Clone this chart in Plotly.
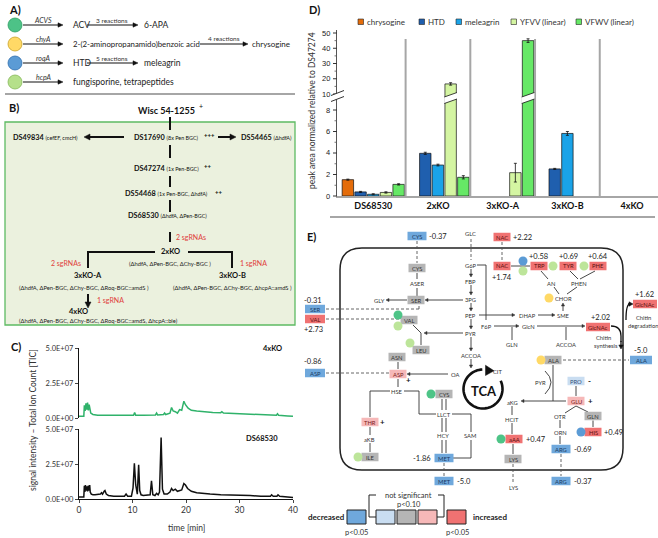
import plotly.graph_objects as go
import numpy as np

W, H = 658, 538
FONT = "Lato"

# ---------------- Panel D data ----------------
groups = ["DS68530", "2xKO", "3xKO-A", "3xKO-B", "4xKO"]
series_names = ["chrysogine", "HTD", "meleagrin", "YFVV (linear)", "VFWV (linear)"]
series_colors = ["#E46C0A", "#1F5FAE", "#1AA3E8", "#D4F5A2", "#66E866"]
chrysogine = [1.52, None, None, None, None]
htd = [0.38, 3.97, None, 2.52, None]
meleagrin = [0.16, 2.88, None, 5.82, None]
yfvv = [0.33, 16.6, 2.17, None, None]
vfwv = [1.08, 1.74, 45.0, None, None]
chrysogine_err = [0.05, 0, 0, 0, 0]
htd_err = [0.05, 0.1, 0, 0.05, 0]
meleagrin_err = [0.05, 0.08, 0, 0.18, 0]
yfvv_err = [0.06, 0.8, 0.87, 0, 0]
vfwv_err = [0.06, 0.15, 1.2, 0, 0]
lower_ticks = [0, 2, 4, 6, 8]
upper_ticks = [10, 20, 30, 40, 50]
lower_minor = [1, 3, 5, 7, 9]
upper_minor = [15, 25, 35, 45]

# ---------------- Panel C data (time [min], TIC in 1E+07) ----------------
tic_4xko = [(0, 0.12), (0.9, 0.12), (1.0, 0.9), (1.15, 0.5), (1.3, 1.05), (1.45, 0.6), (1.6, 1.1),
            (1.75, 0.55), (1.9, 0.95), (2.05, 0.5), (2.2, 0.35), (2.6, 0.25), (3.5, 0.2), (5, 0.2),
            (7, 0.2), (9, 0.2), (10.2, 0.2), (10.4, 0.4), (10.6, 0.2), (12, 0.2), (14.3, 0.22),
            (14.5, 0.35), (14.7, 0.22), (15.8, 0.25), (16.0, 0.35), (16.2, 0.25), (17.0, 0.35),
            (17.3, 0.75), (17.6, 0.5), (18.0, 0.45), (18.4, 0.35), (18.8, 0.6), (19.2, 0.55),
            (19.6, 1.2), (19.9, 0.95), (20.4, 0.7), (21.0, 0.55), (22, 0.5), (23, 0.45), (25, 0.4),
            (26.5, 0.38), (26.7, 0.45), (27, 0.35), (30, 0.3), (33, 0.25), (35, 0.2), (36.9, 0.2),
            (37.1, 0.3), (37.3, 0.2), (39, 0.15), (40, 0.12)]
tic_ds68530 = [(0, 0.15), (0.9, 0.15), (1.0, 0.95), (1.1, 0.5), (1.2, 1.0), (1.35, 0.6), (1.5, 0.9),
               (1.6, 0.55), (1.75, 0.95), (1.9, 0.6), (2.0, 1.0), (2.1, 0.5), (2.3, 0.35), (2.6, 0.3),
               (3.0, 0.3), (3.5, 0.3), (4.0, 0.35), (4.2, 0.45), (4.4, 0.35), (4.7, 0.55), (4.85, 0.6),
               (5.1, 0.35), (5.5, 0.25), (6.5, 0.2), (7.5, 0.2), (8.5, 0.2), (8.8, 0.35), (9.1, 0.2),
               (9.8, 0.2), (10.1, 0.8), (10.35, 2.55), (10.6, 1.0), (10.9, 0.35), (11.15, 2.45),
               (11.35, 0.6), (11.6, 0.3), (12.0, 0.25), (12.8, 0.25), (13.3, 0.3), (13.55, 1.3),
               (13.8, 0.3), (14.2, 0.25), (14.5, 0.4), (14.8, 0.3), (15.05, 0.5), (15.35, 4.4),
               (15.6, 0.7), (15.9, 0.35), (16.5, 0.35), (17.0, 0.5), (17.3, 0.75), (17.6, 0.6),
               (18.0, 0.7), (18.4, 0.55), (18.8, 0.6), (19.2, 0.65), (19.6, 1.1), (19.9, 1.0),
               (20.3, 0.75), (21.0, 0.55), (22.0, 0.45), (23.0, 0.4), (24.5, 0.35), (26.5, 0.3),
               (28.0, 0.3), (30.0, 0.25), (32.0, 0.25), (34.0, 0.2), (35.8, 0.2), (36.0, 0.3),
               (36.3, 0.2), (37.0, 0.2), (37.2, 0.3), (37.5, 0.2), (39.0, 0.15), (40.0, 0.1)]
c_yticks = [0, 2.5, 5]
c_yticktext = ["0.0E+00", "2.5E+07", "5.0E+07"]
c_xticks = [0, 10, 20, 30, 40]


def P(x):
    return x / W


def Q(y):
    return 1 - y / H


anns = []
shapes = []


def txt(x, y, s, size=7, color="#222", anchor="center", angle=0, family=FONT, style="normal"):
    anns.append(dict(x=P(x), y=Q(y), xref="paper", yref="paper", text=s, showarrow=False,
                     font=dict(size=size, color=color, family=family, style=style), xanchor=anchor,
                     yanchor="middle", textangle=angle, borderpad=0))


def line(x0, y0, x1, y1, color="#222", width=1.0, dash=None):
    d = dict(color=color, width=width)
    if dash:
        d["dash"] = dash
    shapes.append(dict(type="line", xref="paper", yref="paper", x0=P(x0), y0=Q(y0),
                       x1=P(x1), y1=Q(y1), line=d))


def path(cmds, color="#222", width=1.0, fill=None):
    s = ""
    for c in cmds:
        s += c[0]
        pts = c[1:]
        for i in range(0, len(pts), 2):
            s += " %.5f,%.5f " % (P(pts[i]), Q(pts[i + 1]))
    d = dict(type="path", xref="paper", yref="paper", path=s, line=dict(color=color, width=width))
    if fill:
        d["fillcolor"] = fill
    shapes.append(d)


def arrow(x0, y0, x1, y1, w=1.0, hl=3.5, hw=1.8, color="#222"):
    dx, dy = x1 - x0, y1 - y0
    n = (dx * dx + dy * dy) ** 0.5
    ux, uy = dx / n, dy / n
    bx, by = x1 - ux * hl, y1 - uy * hl
    line(x0, y0, bx + ux * 0.5, by + uy * 0.5, color, w)
    px, py = -uy, ux
    path([("M", x1, y1), ("L", bx + px * hw, by + py * hw), ("L", bx - px * hw, by - py * hw), ("Z",)],
         color=color, width=0.5, fill=color)


def rect(x0, y0, x1, y1, fill, lc=None, lw=1.0):
    shapes.append(dict(type="rect", xref="paper", yref="paper", x0=P(x0), y0=Q(y1), x1=P(x1),
                       y1=Q(y0), fillcolor=fill,
                       line=dict(color=lc if lc else fill, width=lw if lc else 0)))


def circle(cx, cy, r, fill, lc=None):
    shapes.append(dict(type="circle", xref="paper", yref="paper", x0=P(cx - r), x1=P(cx + r),
                       y0=Q(cy + r), y1=Q(cy - r), fillcolor=fill,
                       line=dict(color=lc if lc else fill, width=0.8 if lc else 0)))


# ---------------- Figure traces ----------------
fig = go.Figure()
vals_list = [chrysogine, htd, meleagrin, yfvv, vfwv]
err_list = [chrysogine_err, htd_err, meleagrin_err, yfvv_err, vfwv_err]
for name, vals, errs, col in zip(series_names, vals_list, err_list, series_colors):
    for ya in ["y", "y2"]:
        fig.add_bar(x=groups, y=vals, name=name, showlegend=False, xaxis="x", yaxis=ya,
                    marker=dict(color=col, line=dict(color="#111", width=0.7)),
                    error_y=dict(type="data", array=errs, color="#111", thickness=0.8, width=1.5))

t4, v4 = zip(*tic_4xko)
t6, v6 = zip(*tic_ds68530)
fig.add_scatter(x=t4, y=v4, mode="lines", line=dict(color="#2FB26A", width=1.5), xaxis="x3",
                yaxis="y3", showlegend=False)
fig.add_scatter(x=t6, y=v6, mode="lines", line=dict(color="#111", width=1.5), xaxis="x4",
                yaxis="y4", showlegend=False)

# ---------------- Panel D layout pieces ----------------
PX_LOW = 10.75   # px per unit (lower)
PX_UP = 1.525    # px per unit (upper)
low_top, low_bot, up_top = 97, 196, 30
low_range = [0, (low_bot - low_top) / PX_LOW]
up_range = [10 - (low_top - 94) / PX_UP, 10 + (94 - up_top) / PX_UP]
BARGAP, GROUPGAP = 0.02, 0.1
ngrp = len(series_names)


def ypix(v, which):
    if which == "low":
        return low_bot - (v - low_range[0]) / (low_range[1] - low_range[0]) * (low_bot - low_top)
    return low_top - (v - up_range[0]) / (up_range[1] - up_range[0]) * (low_top - up_top)


for k in range(len(groups) - 1):
    shapes.append(dict(type="line", xref="x", yref="paper", x0=k + 0.5, x1=k + 0.5,
                       y0=Q(196), y1=Q(39), line=dict(color="#A6A6A6", width=2)))
slot = (1 - BARGAP) / ngrp
bw = slot * (1 - GROUPGAP)
for si, vals in enumerate(vals_list):
    for gi, v in enumerate(vals):
        if v is not None and v > low_range[1]:
            c = gi - 0.5 + BARGAP / 2 + (si + 0.5) * slot
            xa, xb = c - bw / 2 - 0.01, c + bw / 2 + 0.01
            shapes.append(dict(type="path", xref="x", yref="paper",
                               path="M %f,%f L %f,%f L %f,%f L %f,%f Z" % (
                                   xa, Q(103.5), xb, Q(99), xb, Q(92.5), xa, Q(97)),
                               fillcolor="white", line=dict(width=0)))
            for (ya, yb) in [(103.5, 99), (97, 92.5)]:
                shapes.append(dict(type="line", xref="x", yref="paper", x0=xa, x1=xb,
                                   y0=Q(ya), y1=Q(yb), line=dict(color="#111", width=0.8)))

for which, ticks, minor in [("low", lower_ticks, lower_minor), ("up", upper_ticks, upper_minor)]:
    for v in ticks:
        anns.append(dict(x=P(331), y=Q(ypix(v, which)), xref="paper", yref="paper", text=str(v),
                         showarrow=False, xanchor="right", yanchor="middle", bgcolor="white",
                         borderpad=0, font=dict(family="Liberation Sans", size=7.5, color="#222")))
        line(333, ypix(v, which), 337, ypix(v, which), "#333", 1)
    for v in minor:
        line(334.5, ypix(v, which), 337, ypix(v, which), "#555", 0.8)

path([("M", 331, 101.5), ("L", 344, 96.5), ("L", 344, 90.5), ("L", 331, 95.5), ("Z",)],
     color="white", width=0, fill="white")
line(331, 101.5, 344, 96.5, "#333", 1)
line(331, 95.5, 344, 90.5, "#333", 1)

leg = [(358, "chrysogine"), (419, "HTD"), (456, "meleagrin"), (511, "YFVV (linear)"), (576, "VFWV (linear)")]
for (lx, name), col in zip(leg, series_colors):
    rect(lx, 19, lx + 5.5, 24.5, col, "#222", 0.6)
    txt(lx + 7.5, 22, name, size=8, color="#333", anchor="left")

txt(312, 111, "peak area normalized relative to DS47274", size=8.5, color="#333", angle=-90)

# ---------------- Panel C labels ----------------
txt(33, 420, "signal intensity – Total Ion Count [TIC]", size=8.5, color="#333", angle=-90)
txt(186, 528, "time [min]", size=8.5, color="#333")
txt(272, 348, "<b>4xKO</b>", size=7.5, color="#111")
txt(262, 438, "<b>DS68530</b>", size=7.5, color="#111")

# ---------------- panel letters & separators ----------------
txt(8, 10, "<b>A)</b>", size=11, color="#111", anchor="left")
txt(8, 107, "<b>B)</b>", size=11, color="#111", anchor="left")
txt(10, 346, "<b>C)</b>", size=11, color="#111", anchor="left")
txt(308, 10, "<b>D)</b>", size=11, color="#111", anchor="left")
txt(306, 236, "<b>E)</b>", size=11, color="#111", anchor="left")
line(5, 94, 295, 94, "#A6A6A6", 2)
line(330, 217, 655, 217, "#A6A6A6", 2)

# ---------------- Panel A ----------------
rowsA = [(25, "#4DC287", "#2E9E63", "ACVS"), (44, "#FFD966", "#C9A227", "chyA"),
         (63, "#5B9BD5", "#2F6FAF", "roqA"), (82, "#B5E08A", "#86B95A", "hcpA")]
for y, fc, lc, gene in rowsA:
    circle(15, y, 7, fc, lc)
    arrow(23, y, 63, y, w=1.2, hl=5, hw=2.2, color="#111")
    txt(43, y - 5, gene, size=7, color="#333", style="italic")
txt(72, 25, "ACV", size=8.5, anchor="left")
arrow(87, 25, 138, 25, w=1.1, hl=5, hw=2.2, color="#111")
txt(112, 20, "3 reactions", size=6.5, color="#333")
txt(143, 25, "6-APA", size=8.5, anchor="left")
txt(72, 44, "2-(2-aminopropanamido)benzoic acid", size=7.8, anchor="left")
arrow(200, 44, 248, 44, w=1.1, hl=5, hw=2.2, color="#111")
txt(224, 39, "4 reactions", size=6.5, color="#333")
txt(251, 44, "chrysogine", size=8, anchor="left")
txt(72, 63, "HTD", size=8.5, anchor="left")
arrow(87, 63, 138, 63, w=1.1, hl=5, hw=2.2, color="#111")
txt(112, 58, "5 reactions", size=6.5, color="#333")
txt(143, 63, "meleagrin", size=8.5, anchor="left")
txt(72, 82, "fungisporine, tetrapeptides", size=8.5, anchor="left")

# ---------------- Panel B ----------------
rect(5, 122, 295, 325, "#EBF1DE", "#5DBB63", 1.3)
RED = "#E0403A"


def node(x, y, name, detail):
    s = "<b>" + name + "</b> <span style='font-size:5.4px'>" + detail + "</span>"
    txt(x, y, s, size=7.3, color="#111")


txt(166, 110, "<b>Wisc 54-1255</b>", size=9, color="#111")
txt(198, 106, "+", size=7, color="#111", anchor="left")
for (y0, y1) in [(117, 130), (145, 158), (176, 187), (200, 212), (232, 242)]:
    line(170, y0, 170, y1, "#111", 2)
node(166, 137, "DS17690", "(8x Pen BGC)")
txt(203, 134, "<b>+++</b>", size=6, color="#111", anchor="left")
node(45, 137, "DS49834", "(cefEF, cmcH)")
node(266, 137, "DS54465", "(ΔhdfA)")
arrow(124, 137, 84, 137, w=2, hl=6, hw=3, color="#111")
arrow(218, 137, 236, 137, w=2, hl=6, hw=3, color="#111")
node(166, 168, "DS47274", "(1x Pen-BGC)")
txt(203, 165, "<b>++</b>", size=6, color="#111", anchor="left")
node(166, 194, "DS54468", "(1x Pen-BGC, ΔhdfA)")
txt(214, 191, "<b>++</b>", size=6, color="#111", anchor="left")
node(167, 216, "DS68530", "(ΔhdfA, ΔPen-BGC)")
txt(175, 237, "2 sgRNAs", size=7, color=RED, anchor="left")
txt(170, 252, "<b>2xKO</b>", size=7.5, color="#111")
txt(170, 263, "(ΔhdfA, ΔPen-BGC, ΔChy-BGC )", size=5.8, color="#222")
line(88, 252, 155, 252, "#111", 2)
line(188, 252, 232, 252, "#111", 2)
line(88, 251, 88, 268, "#111", 2)
line(232, 251, 232, 268, "#111", 2)
txt(66, 263, "2 sgRNAs", size=7, color=RED)
txt(253, 263, "1 sgRNA", size=7, color=RED)
txt(88, 275, "<b>3xKO-A</b>", size=7.5, color="#111")
txt(84, 287, "(ΔhdfA, ΔPen-BGC, ΔChy-BGC, ΔRoq-BGC::amdS )", size=5.8, color="#222")
txt(232, 275, "<b>3xKO-B</b>", size=7.5, color="#111")
txt(232, 287, "(ΔhdfA, ΔPen-BGC, ΔChy-BGC, ΔhcpA::amdS )", size=5.8, color="#222")
arrow(88, 294, 88, 308, w=2, hl=6, hw=3, color="#111")
txt(96, 300, "1 sgRNA", size=7, color=RED, anchor="left")
txt(78, 311, "<b>4xKO</b>", size=7.5, color="#111")
txt(98, 320, "(ΔhdfA, ΔPen-BGC, ΔChy-BGC, ΔRoq-BGC::amdS, ΔhcpA::ble)", size=5.8, color="#222")

# ---------------- Panel E ----------------
BOXC = {"dec": "#6FA8DC", "ldec": "#C9DDF1", "ns": "#B5B5B5", "linc": "#F6B8B8", "inc": "#F07272"}
BOXT = {"dec": "#1B3A63", "ldec": "#33507A", "ns": "#333333", "linc": "#7A2020", "inc": "#5A0F0F"}


def mbox(cx, cy, label, kind, w=17, h=8.5):
    rect(cx - w / 2, cy - h / 2, cx + w / 2, cy + h / 2, BOXC[kind])
    txt(cx, cy, label, size=5.8, color=BOXT[kind])


def val(x, y, s, anchor="center"):
    txt(x, y, s, size=7.5, color="#222", anchor=anchor)


x0, y0, x1, y1, r = 340, 248, 623, 470, 22
path([("M", x0 + r, y0), ("L", x1 - r, y0), ("Q", x1, y0, x1, y0 + r), ("L", x1, y1 - r),
      ("Q", x1, y1, x1 - r, y1), ("L", x0 + r, y1), ("Q", x0, y1, x0, y1 - r), ("L", x0, y0 + r),
      ("Q", x0, y0, x0 + r, y0), ("Z",)], color="#222", width=1.5)

DASH = "3px,2px"
for a in [(471, 239, 471, 260), (417, 241, 417, 263), (502, 242, 502, 261), (326, 309, 419, 309),
          (419, 309, 419, 305), (326, 319, 400, 319), (326, 373, 389, 373), (444, 463, 444, 476),
          (513, 464, 513, 483), (563, 360, 629, 360), (561, 454, 561, 476)]:
    line(*a, color="#555", width=0.9, dash=DASH)

for a in [(417, 296, 417, 288), (417, 279, 417, 273), (477, 265, 486, 265), (486, 265, 486, 320),
          (413, 325, 421, 333), (421, 333, 421, 345), (398, 369, 398, 362), (398, 379, 398, 387),
          (390, 391, 370, 391), (370, 391, 370, 417), (404, 391, 419, 391), (419, 391, 419, 414),
          (419, 414, 436, 414), (442, 399, 442, 410), (446, 399, 446, 410), (442, 418, 442, 432),
          (446, 418, 446, 432), (442, 440, 442, 453), (446, 440, 446, 453), (452, 414, 471, 414),
          (471, 414, 471, 432), (471, 440, 471, 458), (471, 458, 453, 458), (370, 427, 370, 435),
          (370, 443, 370, 452), (511, 266, 530, 266), (541, 271, 548, 279), (554, 287, 559, 294),
          (570, 271, 578, 279), (595, 271, 580, 279), (577, 287, 567, 294), (512, 340, 512, 327),
          (566, 340, 566, 327), (553, 365, 553, 401), (512, 406, 512, 415), (512, 423, 512, 434),
          (513, 444, 513, 454), (576, 386, 576, 396), (576, 406, 565, 413), (576, 406, 588, 412),
          (560, 420, 560, 428), (560, 436, 560, 444), (593, 420.5, 593, 427)]:
    line(*a, color="#333", width=0.9)

for a in [(471, 269, 471, 277), (471, 285, 471, 295), (471, 303, 471, 311), (471, 319, 471, 329),
          (471, 337, 471, 351), (471, 359, 471, 368), (463, 300, 425, 300), (407, 300, 386, 300),
          (463, 333, 424, 333), (448, 374, 407, 374), (479, 315, 515, 315), (538, 315, 555, 315),
          (494, 326, 519, 326), (537, 326, 585, 326), (566, 401, 521, 401), (563, 311, 563, 303)]:
    arrow(*a, w=0.9, hl=3, hw=1.6, color="#333")

path([("M", 545, 371), ("Q", 557, 382, 545, 394)], color="#333", width=0.9)
path([("M", 611, 326), ("Q", 621, 326, 621, 336), ("L", 621, 342)], color="#111", width=1.3)
arrow(621, 341, 621, 349, w=1.3, hl=4, hw=2.2, color="#111")
path([("M", 626, 320), ("Q", 626, 304, 630, 304)], color="#111", width=1.3)
arrow(628, 304, 633, 304, w=1.3, hl=4, hw=2.2, color="#111")

cx, cy, rr = 483, 389, 19.5
ang = np.radians(np.linspace(25, -268, 60))
pts = [("M", cx + rr * np.cos(ang[0]), cy - rr * np.sin(ang[0]))]
pts += [("L", cx + rr * np.cos(a), cy - rr * np.sin(a)) for a in ang[1:]]
path(pts, color="#111", width=2.6)
path([("M", 494, 370.8), ("L", 485.5, 365.2), ("L", 485.5, 375.5), ("Z",)], color="#111", width=0.5,
     fill="#111")
txt(484, 391, "<b>TCA</b>", size=13, color="#111")

boxes = [(417, 236, "CYS", "dec", 19), (502, 237, "NAC", "inc", 17), (417, 268, "CYS", "ns", 17),
         (416, 300, "SER", "ns", 17), (502, 266, "NAC", "inc", 17), (539, 266, "TRP", "inc", 17),
         (568, 266, "TYR", "inc", 17), (598, 266, "PHE", "inc", 17), (598, 327, "GlcNAc", "inc", 24),
         (645, 304, "GlcNAc", "inc", 24), (315, 309, "SER", "dec", 20), (315, 319, "VAL", "inc", 20),
         (409, 320, "VAL", "ns", 17), (421, 350, "LEU", "ns", 17), (397, 357, "ASN", "ns", 17),
         (398, 374, "ASP", "linc", 17), (315, 373, "ASP", "dec", 20), (370, 422, "THR", "linc", 17),
         (444, 394, "CYS", "ns", 17), (444, 458, "MET", "dec", 19), (444, 481, "MET", "dec", 19),
         (370, 457, "ILE", "ns", 17), (514, 439, "aAA", "inc", 17), (513, 459, "LYS", "ns", 17),
         (553, 360, "ALA", "ns", 17), (641, 360, "ALA", "dec", 22), (576, 381, "PRO", "ldec", 17),
         (576, 401, "GLU", "linc", 17), (593, 416, "GLN", "ns", 17), (593, 432, "HIS", "inc", 17),
         (561, 449, "ARG", "dec", 19), (561, 481, "ARG", "dec", 19)]
for bx, by, lab, kind, bwid in boxes:
    mbox(bx, by, lab, kind, bwid)

for a in [(428, 236, "-0.37", "left"), (512, 237, "+2.22", "left"), (502, 277.5, "+1.74", "center"),
          (538, 256, "+0.58", "center"), (568, 256, "+0.69", "center"), (598, 256, "+0.64", "center"),
          (600, 317, "+2.02", "center"), (644, 294, "+1.62", "center"), (313, 300, "-0.31", "center"),
          (313, 329, "+2.73", "center"), (313, 362, "-0.86", "center"), (432, 458, "-1.86", "right"),
          (456, 481, "-5.0", "left"), (525, 439, "+0.47", "left"), (641, 350, "-5.0", "center"),
          (603, 432, "+0.49", "left"), (573, 449, "-0.69", "left"), (573, 481, "-0.37", "left")]:
    val(*a)
for a in [(408, 380, "+"), (382, 422, "+"), (589, 381, "-"), (590, 401, "+")]:
    txt(a[0], a[1], "<b>" + a[2] + "</b>", size=8, color="#111")

for a in [(471, 234, "GLC"), (471, 265, "G6P"), (471, 281, "FBP"), (471, 299, "3PG"), (471, 315, "PEP"),
          (471, 333, "PYR"), (471, 355, "ACCOA"), (379, 300, "GLY"), (417, 283.5, "ASER"),
          (486, 326, "F6P"), (527, 315, "DHAP"), (563, 315, "SME"), (528, 326, "GlcN"),
          (512, 344, "GLN"), (566, 344, "ACCOA"), (551, 283, "AN"), (579, 283, "PHEN"),
          (563, 298, "CHOR"), (455, 374, "OA"), (497, 371, "CIT"), (397, 391, "HSE"),
          (444, 414, "LLCT"), (443, 436, "HCY"), (470, 436, "SAM"), (369, 439, "aKB"),
          (512, 402, "aKG"), (512, 419, "HCIT"), (513, 487, "LYS"), (540, 382, "PYR"),
          (560, 416, "OTR"), (560, 432, "ORN"), (603, 337, "Chitin"), (606, 345, "synthesis"),
          (643, 317, "Chitin"), (643, 325, "degradation")]:
    txt(a[0], a[1], a[2], size=5.8, color="#333")

LG, DG, YL, BL = "#BDE59A", "#4EC487", "#FFD966", "#5B9BD5"
for a in [(523, 261, BL), (523, 271, LG), (553, 266, LG), (584, 266, LG), (549, 298, YL),
          (398, 315, DG), (398, 326, LG), (410, 343, LG), (431, 394, DG), (358, 457, LG),
          (501, 439, DG), (541, 360, YL), (581, 432, BL)]:
    circle(a[0], a[1], 4.5, a[2])

for (lx, kind) in [(347, "dec"), (376, "ldec"), (397, "ns"), (418, "linc"), (447, "inc")]:
    rect(lx, 510, lx + 19, 524, BOXC[kind], "#222", 1)
txt(346, 517, "<b>decreased</b>", size=8, color="#222", anchor="right")
txt(472, 517, "<b>increased</b>", size=8, color="#222", anchor="left")
txt(356, 532, "p<0.05", size=7.5, color="#333")
txt(457, 532, "p<0.05", size=7.5, color="#333")
txt(408, 495, "not significant", size=7.5, color="#333")
txt(409, 504, "p<0.10", size=7.5, color="#333")
for a in [(369, 495, 376, 495), (369, 495, 369, 517), (369, 517, 376, 517), (438, 495, 444, 495),
          (444, 495, 444, 517), (437, 517, 444, 517)]:
    line(*a, color="#222", width=1)

# ---------------- Layout ----------------
fig.update_layout(
    width=W, height=H, margin=dict(l=0, r=0, t=0, b=0), paper_bgcolor="white",
    plot_bgcolor="rgba(0,0,0,0)", font=dict(family=FONT),
    barmode="group", bargap=BARGAP, bargroupgap=GROUPGAP, showlegend=False,
    xaxis=dict(domain=[337 / W, 1], range=[-0.56, 4.4], type="category", anchor="y",
               showline=True, linecolor="#A6A6A6", linewidth=1.5, ticks="",
               tickvals=groups, ticktext=["<b>" + g + "</b>" for g in groups],
               tickfont=dict(family=FONT, size=9, color="#111"), showgrid=False, fixedrange=True,
               automargin=False),
    yaxis=dict(domain=[Q(low_bot), Q(low_top)], range=low_range, anchor="x",
               showticklabels=False, ticks="",
               showline=True, linecolor="#555", linewidth=1, showgrid=False, zeroline=False,
               automargin=False),
    yaxis2=dict(domain=[Q(low_top), Q(up_top)], range=up_range, anchor="x",
                showticklabels=False, ticks="",
                showline=True, linecolor="#555", linewidth=1, showgrid=False, zeroline=False,
                automargin=False),
    xaxis3=dict(domain=[79 / W, 293 / W], range=[0, 40], anchor="y3", visible=False),
    yaxis3=dict(domain=[Q(418), Q(348)], range=[0, 5], anchor="x3", tickvals=c_yticks,
                ticktext=c_yticktext, showline=True, linecolor="#111", linewidth=1.2,
                ticks="outside", ticklen=3, tickfont=dict(family=FONT, size=7.5, color="#333"),
                showgrid=False, zeroline=False, automargin=False),
    xaxis4=dict(domain=[79 / W, 293 / W], range=[0, 40], anchor="y4", tickvals=c_xticks,
                showline=True, linecolor="#111", linewidth=1.2, ticks="outside", ticklen=3,
                tickfont=dict(family=FONT, size=8.5, color="#333"), showgrid=False, zeroline=False,
                automargin=False),
    yaxis4=dict(domain=[Q(499), Q(429)], range=[0, 5], anchor="x4", tickvals=c_yticks,
                ticktext=c_yticktext, showline=True, linecolor="#111", linewidth=1.2,
                ticks="outside", ticklen=3, tickfont=dict(family=FONT, size=7.5, color="#333"),
                showgrid=False, zeroline=False, automargin=False),
    annotations=anns, shapes=shapes,
)

fig.write_html("out.html", config={"displayModeBar": False},
               post_script="document.body.style.margin='0';")
